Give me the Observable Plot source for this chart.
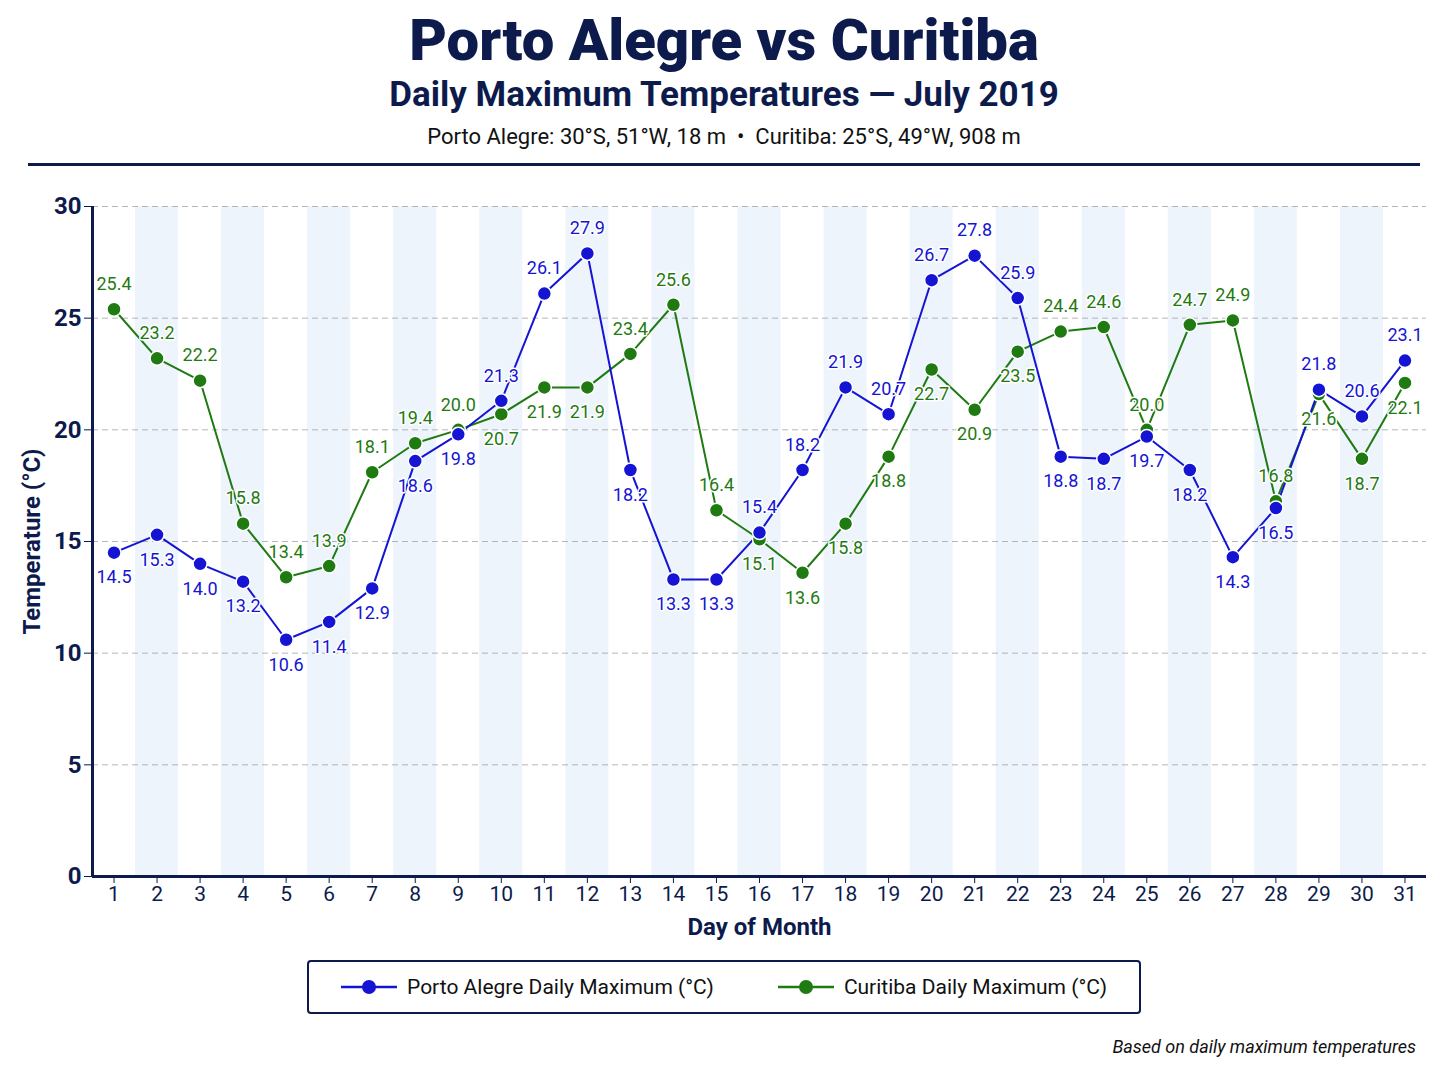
<!DOCTYPE html>
<html><head><meta charset="utf-8">
<script src="https://cdn.jsdelivr.net/npm/d3@7"></script>
<script src="https://cdn.jsdelivr.net/npm/@observablehq/plot@0.6"></script>
<style>
body{margin:0;background:#fff;font-family:Roboto,"Noto Sans",sans-serif;color:#0d1b4c;width:1448px}
h1{margin:8px 0 0;text-align:center;font-size:58px;font-weight:900;line-height:64px;color:#0d1b4c}
h2{margin:0;text-align:center;font-size:35px;font-weight:700;line-height:46px;color:#0d1b4c}
.info{text-align:center;font-size:22px;margin-top:6px;color:#111}
hr{border:none;border-top:3px solid #0d1b4c;margin:14px 28px 0}
.legend{margin:14px auto 0;width:830px;border:2px solid #0d1b4c;border-radius:4px;height:50px;display:flex;align-items:center;justify-content:space-around;font-size:21px;color:#111}
.li{display:flex;align-items:center;gap:10px}
.cap{text-align:right;font-style:italic;font-size:18px;margin:22px 32px 0 0;color:#111}
</style></head><body>
<h1>Porto Alegre vs Curitiba</h1>
<h2>Daily Maximum Temperatures — July 2019</h2>
<div class="info">Porto Alegre: 30°S, 51°W, 18 m &nbsp;•&nbsp; Curitiba: 25°S, 49°W, 908 m</div>
<hr>
<div id="chart"></div>
<div class="legend">
<div class="li"><svg width="56" height="20"><line x1="0" x2="56" y1="10" y2="10" stroke="#1414d2" stroke-width="2.5"/><circle cx="28" cy="10" r="7" fill="#1414d2"/></svg>Porto Alegre Daily Maximum (°C)</div>
<div class="li"><svg width="56" height="20"><line x1="0" x2="56" y1="10" y2="10" stroke="#1f7a12" stroke-width="2.5"/><circle cx="28" cy="10" r="7" fill="#1f7a12"/></svg>Curitiba Daily Maximum (°C)</div>
</div>
<div class="cap">Based on daily maximum temperatures</div>
<script>
const days = d3.range(1, 32);
const porto = [14.5,15.3,14.0,13.2,10.6,11.4,12.9,18.6,19.8,21.3,26.1,27.9,18.2,13.3,13.3,15.4,18.2,21.9,20.7,26.7,27.8,25.9,18.8,18.7,19.7,18.2,14.3,16.5,21.8,20.6,23.1];
const curitiba = [25.4,23.2,22.2,15.8,13.4,13.9,18.1,19.4,20.0,20.7,21.9,21.9,23.4,25.6,16.4,15.1,13.6,15.8,18.8,22.7,20.9,23.5,24.4,24.6,20.0,24.7,24.9,16.8,21.6,18.7,22.1];
const yTicks = [0,5,10,15,20,25,30];
const P = days.map((d,i)=>({day:d,v:porto[i],up:porto[i]>=curitiba[i]}));
const C = days.map((d,i)=>({day:d,v:curitiba[i],up:curitiba[i]>porto[i]}));
const blue="#1414d2", green="#1f7a12";
const bands = days.filter(d=>d%2===0);
const lbl = (data,fill)=>[
  Plot.text(data.filter(d=>d.up),{x:"day",y:"v",text:d=>d.v.toFixed(1),fill,fontSize:18,dy:-25,stroke:"white",strokeWidth:3,paintOrder:"stroke"}),
  Plot.text(data.filter(d=>!d.up),{x:"day",y:"v",text:d=>d.v.toFixed(1),fill,fontSize:18,dy:25,stroke:"white",strokeWidth:3,paintOrder:"stroke"})
];
const chart = Plot.plot({
  width:1448, height:780,
  marginLeft:92, marginRight:22, marginTop:40, marginBottom:70,
  style:{fontFamily:"Roboto, sans-serif", fontSize:"20px", color:"#0d1b4c"},
  x:{domain:[0.5,31.5]},
  y:{domain:[0,30]},
  marks:[
    Plot.rect(bands,{x1:d=>d-0.5,x2:d=>d+0.5,y1:0,y2:30,fill:"#eef4fc"}),
    Plot.gridY(yTicks.slice(1),{stroke:"#999",strokeDasharray:"6,4",strokeOpacity:0.7}),
    Plot.axisY({ticks:yTicks,fontSize:24,fontWeight:"bold",tickSize:8,label:"Temperature (°C)",labelArrow:"none",labelAnchor:"center",labelOffset:70}),
    Plot.axisX({ticks:days,tickFormat:d=>d,fontSize:21,tickSize:7,label:"Day of Month",labelArrow:"none",labelAnchor:"center",labelOffset:58}),
    Plot.ruleX([0.5],{stroke:"#0d1b4c",strokeWidth:3}),
    Plot.ruleY([0],{stroke:"#0d1b4c",strokeWidth:3}),
    Plot.line(C,{x:"day",y:"v",stroke:green,strokeWidth:2}),
    Plot.line(P,{x:"day",y:"v",stroke:blue,strokeWidth:2}),
    Plot.dot(C,{x:"day",y:"v",r:7,fill:green,stroke:"white",strokeWidth:1.5}),
    Plot.dot(P,{x:"day",y:"v",r:7,fill:blue,stroke:"white",strokeWidth:1.5}),
    ...lbl(C,green), ...lbl(P,blue)
  ]
});
chart.querySelectorAll('[aria-label="y-axis label"] text, [aria-label="x-axis label"] text').forEach(t=>{t.style.fontSize="24px";t.style.fontWeight="bold";});
document.getElementById("chart").appendChild(chart);
</script>
</body></html>
